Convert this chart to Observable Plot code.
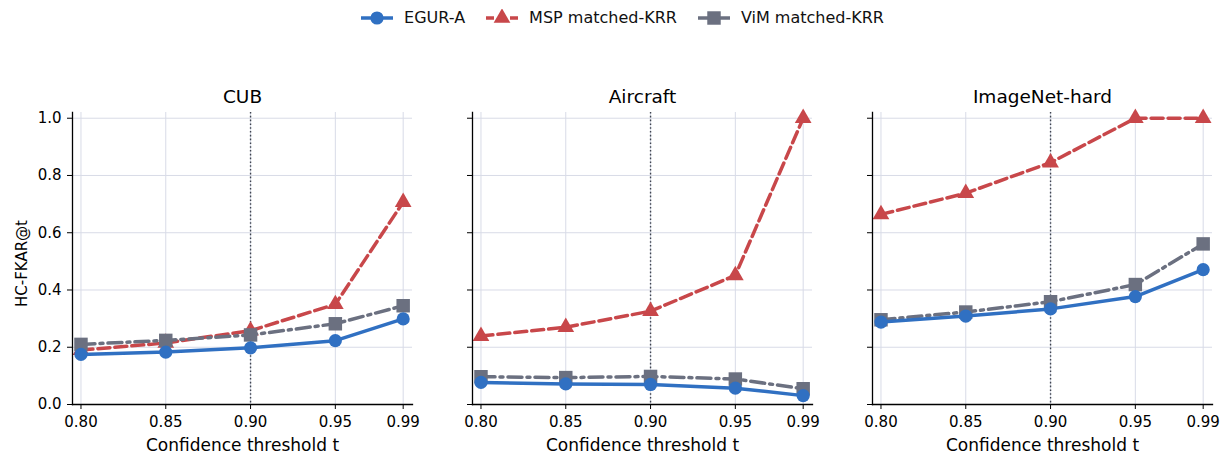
<!DOCTYPE html>
<html><head><meta charset="utf-8">
<script src="https://cdn.jsdelivr.net/npm/d3@7"></script>
<script src="https://cdn.jsdelivr.net/npm/@observablehq/plot@0.6"></script>
<style>
body{margin:0;background:#fff;font-family:"DejaVu Sans",sans-serif;}
#root{position:relative;width:1220px;height:455px;overflow:hidden;background:#fff;}
#legend{position:absolute;top:9px;left:12px;width:1220px;display:flex;justify-content:center;align-items:center;font-size:16px;color:#111;line-height:18px;}
.item{display:flex;align-items:center;margin:0 10px;}
.item svg{margin-right:10px;display:block}
#panels{position:absolute;top:70px;left:0;display:flex;}
</style></head><body>
<div id="root"><div id="legend"></div><div id="panels"></div></div>
<script>
const thresholds = [0.80, 0.85, 0.90, 0.95, 0.99];
const thresholdLabels = ["0.80","0.85","0.90","0.95","0.99"];
const datasets = ["CUB","Aircraft","ImageNet-hard"];
const methods = ["EGUR-A","MSP matched-KRR","ViM matched-KRR"];
const yTicks = [0, 0.2, 0.4, 0.6, 0.8, 1.0];
const refThreshold = [0.90];
// values per dataset (CUB, Aircraft, ImageNet-hard), per threshold
const egurA  = [[0.175,0.183,0.198,0.223,0.299],[0.077,0.072,0.070,0.057,0.031],[0.288,0.309,0.334,0.377,0.471]];
const mspKRR = [[0.190,0.215,0.258,0.350,0.707],[0.239,0.270,0.326,0.451,1.000],[0.664,0.738,0.845,1.000,1.000]];
const vimKRR = [[0.210,0.224,0.243,0.282,0.345],[0.097,0.094,0.098,0.089,0.055],[0.296,0.323,0.359,0.419,0.561]];
const seriesValues = [egurA, mspKRR, vimKRR];

const colors = ["#3070c2","#c8474a","#6b7080"];
const symbols = ["circle","triangle","square"];
const radii = [6.6, 6.2, 7.6];
const dashes = [undefined, "12,5", "14,5,3,5"];
const drawOrder = [1, 2, 0];

const rows = [];
datasets.forEach((d, di) => methods.forEach((m, mi) => thresholds.forEach((t, ti) => {
  rows.push({dataset: d, method: m, t, v: seriesValues[mi][di][ti]});
})));

// legend
const legend = document.getElementById("legend");
methods.forEach((m, mi) => {
  const item = document.createElement("div");
  item.className = "item";
  const svg = d3.create("svg").attr("width", 34).attr("height", 18);
  svg.append("line").attr("x1", 1).attr("x2", 33).attr("y1", 9).attr("y2", 9)
    .attr("stroke", colors[mi]).attr("stroke-width", 3.5)
    .attr("stroke-dasharray", mi === 1 ? "8,4" : null);
  svg.append("path").attr("transform", "translate(17,9)")
    .attr("d", d3.symbol(mi === 0 ? d3.symbolCircle : mi === 1 ? d3.symbolTriangle : d3.symbolSquare, Math.PI * radii[mi] * radii[mi])())
    .attr("fill", colors[mi]);
  item.appendChild(svg.node());
  const span = document.createElement("span");
  span.textContent = m;
  item.appendChild(span);
  legend.appendChild(item);
});

function panel(di) {
  const first = di === 0;
  const data = rows.filter(r => r.dataset === datasets[di]);
  const marks = [
    Plot.ruleX(thresholds, {stroke: "#d8dbe7", strokeWidth: 1}),
    Plot.ruleY(yTicks, {stroke: "#d8dbe7", strokeWidth: 1}),
    Plot.ruleX(refThreshold, {stroke: "#3f444f", strokeWidth: 1.4, strokeDasharray: "1.6,2.2"})
  ];
  drawOrder.forEach(mi => {
    const r = data.filter(x => x.method === methods[mi]);
    marks.push(Plot.line(r, {x: "t", y: "v", stroke: colors[mi], strokeWidth: 3.5, strokeDasharray: dashes[mi]}));
    marks.push(Plot.dot(r, {x: "t", y: "v", symbol: () => symbols[mi], r: radii[mi], fill: colors[mi], stroke: "none"}));
  });
  marks.push(Plot.frame({anchor: "left", stroke: "#000", strokeWidth: 1.3}));
  marks.push(Plot.frame({anchor: "bottom", stroke: "#000", strokeWidth: 1.3}));
  marks.push(Plot.axisX({ticks: thresholds, tickFormat: d => thresholdLabels[thresholds.indexOf(d)], tickSize: 5, tickPadding: 7, fontSize: 15, label: null}));
  marks.push(Plot.axisY({ticks: yTicks, tickSize: 5, tickPadding: 6, fontSize: 15, label: null,
    tickFormat: first ? (d => d.toFixed(1)) : (() => "")}));
  marks.push(Plot.text([datasets[di]], {frameAnchor: "top", lineAnchor: "bottom", dy: -10, fontSize: 18.5, text: d => d}));
  marks.push(Plot.text(["Confidence threshold t"], {frameAnchor: "bottom", lineAnchor: "bottom", dy: 46, fontSize: 17, text: d => d}));
  if (first) marks.push(Plot.text(["HC-FKAR@t"], {frameAnchor: "left", rotate: -90, lineAnchor: "bottom", textAnchor: "middle", dx: -46, dy: 5, fontSize: 15, text: d => d}));
  return Plot.plot({
    width: first ? 420 : 400,
    height: 385,
    marginLeft: first ? 72 : 52,
    marginRight: 8,
    marginTop: 42,
    marginBottom: 51,
    style: {color: "#000", background: "white", fontFamily: "'DejaVu Sans', sans-serif", overflow: "visible"},
    x: {type: "linear", domain: [0.795, 0.9955]},
    y: {domain: [0, 1.02]},
    marks
  });
}
const panels = document.getElementById("panels");
datasets.forEach((d, di) => panels.appendChild(panel(di)));
</script>
</body></html>
